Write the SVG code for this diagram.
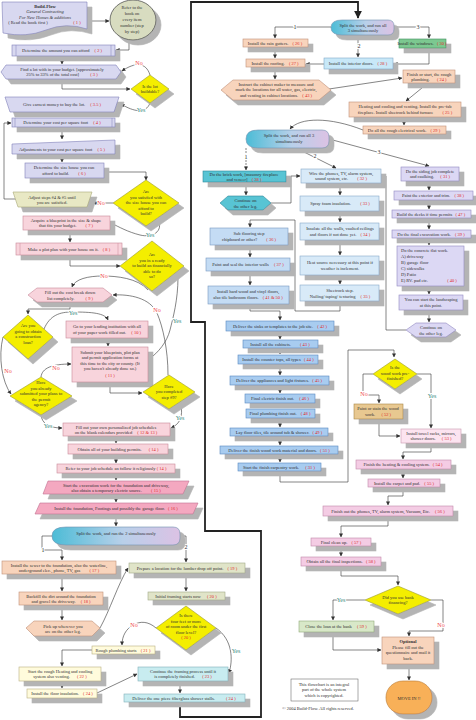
<svg xmlns="http://www.w3.org/2000/svg" width="476" height="720" viewBox="0 0 476 720">
<defs>
<filter id="sh" x="-0.1" y="-0.3" width="1.5" height="2.6"><feFlood flood-color="#b4b4b4"/><feComposite in2="SourceAlpha" operator="in"/><feOffset dx="5" dy="5" result="s"/><feMerge><feMergeNode in="s"/><feMergeNode in="SourceGraphic"/></feMerge></filter>
<marker id="ah" viewBox="0 0 10 10" refX="9" refY="5" markerWidth="4" markerHeight="4" markerUnits="userSpaceOnUse" orient="auto"><path d="M0,0 L10,5 L0,10 Z" fill="#333"/></marker>
<marker id="ahb" viewBox="0 0 10 10" refX="9" refY="5" markerWidth="8" markerHeight="8" markerUnits="userSpaceOnUse" orient="auto"><path d="M0,0 L10,5 L0,10 Z" fill="#222"/></marker>
<linearGradient id="sg" x1="0" y1="0" x2="1" y2="0"><stop offset="0" stop-color="#4cbcd6"/><stop offset="0.55" stop-color="#b8d0ea"/><stop offset="1" stop-color="#dcc2e4"/></linearGradient>
</defs>
<style>
text{font-family:"Liberation Serif","Times New Roman",serif;font-size:4.5px;fill:#303030;text-anchor:middle}
text.st{text-anchor:start}
.n{fill:#e02828}
.lb{font-size:6px;paint-order:stroke;stroke:#fff;stroke-width:2px}
.no{fill:#f04848}
.ye{fill:#3a8a80}
.c{stroke:#333;stroke-width:0.6;fill:none;marker-end:url(#ah)}
.th{stroke:#222;stroke-width:1.8;fill:none}
.lv{fill:#d8d8f0;stroke:#8080b8;stroke-width:0.6}
.ad{fill:#e8e8c4;stroke:#a8a878;stroke-width:0.6}
.pk{fill:#f8d4dc;stroke:#c88898;stroke-width:0.6}
.dp{fill:#f4a8c0;stroke:#c07090;stroke-width:0.6}
.sa{fill:#f8d4bc;stroke:#c09078;stroke-width:0.6}
.gg{fill:#e0e4c8;stroke:#a0a888;stroke-width:0.6}
.ly{fill:#fffbdc;stroke:#b8b080;stroke-width:0.6}
.lc{fill:#c8ecf0;stroke:#80b0b8;stroke-width:0.6}
.wg{fill:#7cc890;stroke:#409060;stroke-width:0.6}
.ib{fill:#c8e8f8;stroke:#80a8c8;stroke-width:0.6}
.cy{fill:#58c4d4;stroke:#308898;stroke-width:0.6}
.mb{fill:#d8eaf8;stroke:#88a8c8;stroke-width:0.6}
.sb{fill:#c4dcf4;stroke:#7898c0;stroke-width:0.6}
.bb{fill:#a8ccf0;stroke:#5888c0;stroke-width:0.6}
.rl{fill:#dcd8f4;stroke:#9088c0;stroke-width:0.6}
.tn{fill:#e8c890;stroke:#a88848;stroke-width:0.6}
.lp{fill:#fce4f0;stroke:#c898b0;stroke-width:0.6}
.pp{fill:#f4cce4;stroke:#c088a8;stroke-width:0.6}
.gn{fill:#d8e8c8;stroke:#90a878;stroke-width:0.6}
.yl{fill:#f4ee00;stroke:#9a9a30;stroke-width:0.6}
.sp{fill:url(#sg);stroke:#7090b0;stroke-width:0.6}
.il{stroke:#8080b8;stroke-width:0.5}
</style>

<g id="connectors">
<path class="th" d="M180,702 V717 H261 V531 H205 V322 H191 V2 H358 V18" marker-end="url(#ahb)"/>
<path class="c" d="M87,21 H109"/>
<path class="c" d="M129,40 V50 H116"/>
<path class="c" d="M62,56 V64"/>
<path class="c" d="M62,79 V89 H130"/>
<path class="c" d="M150,75 C146,62 135,62 122,71"/>
<path class="c" d="M150,103 C146,114 134,112 121,104"/>
<path class="c" d="M62,112 V117"/>
<path class="c" d="M62,127 V139"/>
<path class="c" d="M62,154 V162"/>
<path class="c" d="M104,172 H146 V180"/>
<path class="c" d="M113,203 H93"/>
<path class="c" d="M18,199 H4 V123 H11"/>
<path class="c" d="M158,219 C164,232 152,238 140,235 C128,232 119,227 111,223"/>
<path class="c" d="M70,230 V242"/>
<path class="c" d="M70,255 V266 H120"/>
<path class="c" d="M148,290 C138,278 116,276 103,276 C88,276 75,279 72,287"/>
<path class="c" d="M178,277 C178,300 173,318 170,330 C167,342 158,353 149,359"/>
<path class="c" d="M168,375 C168,350 163,327 157,313 C150,298 130,294 113,295"/>
<path class="c" d="M70,302 V309 H28 V314"/>
<path class="c" d="M44,329 C50,315 60,312 72,312 C92,312 105,313 108,320"/>
<path class="c" d="M108,338 V346"/>
<path class="c" d="M3,337 C-2,357 2,382 11,394"/>
<path class="c" d="M41,377 C42,368 52,364 71,364"/>
<path class="c" d="M110,382 V393 H142"/>
<path class="c" d="M41,415 C42,423 48,428 62,428"/>
<path class="c" d="M181,404 C183,417 180,424 171,428"/>
<path class="c" d="M116,436 V443"/>
<path class="c" d="M116,454 V463"/>
<path class="c" d="M116,473 V480"/>
<path class="c" d="M116,494 V502"/>
<path class="c" d="M116,514 V526"/>
<path class="c" d="M52,536 H42 V550 H62 V560"/>
<path class="c" d="M180,536 H186 V562"/>
<path class="c" d="M62,574 V591"/>
<path class="c" d="M62,605 V620"/>
<path class="c" d="M100,628 C110,610 118,584 128,568"/>
<path class="c" d="M186,573 V591"/>
<path class="c" d="M186,600 V605"/>
<path class="c" d="M156,628 C148,621 140,621 133,625 C126,629 122,636 122,645"/>
<path class="c" d="M216,628 C233,640 233,660 229,673"/>
<path class="c" d="M92,650 H62 V666"/>
<path class="c" d="M62,681 V688"/>
<path class="c" d="M97,693 L137,674"/>
<path class="c" d="M180,681 V693"/>
<path class="c" d="M331,27 H275 V38"/>
<path class="c" d="M358,35 V57"/>
<path class="c" d="M394,27 H429 V38"/>
<path class="c" d="M275,47 V58"/>
<path class="c" d="M429,48 V64 H394"/>
<path class="c" d="M324,64 H306"/>
<path class="c" d="M275,67 V79"/>
<path class="c" d="M329,89 L402,78"/>
<path class="c" d="M428,83 L406,101"/>
<path class="c" d="M404,117 V125"/>
<path class="c" d="M363,130 C330,117 300,117 290,129"/>
<path class="c" d="M246,148 V170" stroke-dasharray="2,1"/>
<path class="c" d="M296,148 L336,168"/>
<path class="c" d="M329,139 L429,166"/>
<path class="c" d="M246,182 V195"/>
<path class="c" d="M271,203 H291 V176 H300"/>
<path class="c" d="M340,183 V195"/>
<path class="c" d="M340,211 V222"/>
<path class="c" d="M340,240 V255"/>
<path class="c" d="M340,275 V284"/>
<path class="c" d="M340,301 V311 H295 V220 H250 V227"/>
<path class="c" d="M250,245 V257"/>
<path class="c" d="M250,271 V285"/>
<path class="c" d="M250,304 V311 H280 V320"/>
<path class="c" d="M280,331 V339"/>
<path class="c" d="M280,348 V354"/>
<path class="c" d="M280,364 V375"/>
<path class="c" d="M280,385 V393"/>
<path class="c" d="M280,403 V408"/>
<path class="c" d="M280,418 V427"/>
<path class="c" d="M280,436 V445"/>
<path class="c" d="M280,454 V462"/>
<path class="c" d="M280,471 V482 H348 V350 H394 V357"/>
<path class="c" d="M429,181 V190"/>
<path class="c" d="M429,200 V209"/>
<path class="c" d="M429,218 V229"/>
<path class="c" d="M429,238 V245"/>
<path class="c" d="M429,286 V294"/>
<path class="c" d="M429,310 V322"/>
<path class="c" d="M406,330 H386 V176 H382"/>
<path class="c" d="M373,374 H363 V395 H379 V403"/>
<path class="c" d="M417,374 H431 V428"/>
<path class="c" d="M379,419 V436 H400"/>
<path class="c" d="M431,443 V452 H403 V459"/>
<path class="c" d="M403,469 V478"/>
<path class="c" d="M403,487 V496 H388 V505"/>
<path class="c" d="M388,516 V526 H341 V537"/>
<path class="c" d="M341,546 V556"/>
<path class="c" d="M341,566 V576 H398 V585"/>
<path class="c" d="M365,600 H333 V620"/>
<path class="c" d="M431,600 H443 V631 H409 V636"/>
<path class="c" d="M333,632 V650 H381"/>
<path class="c" d="M409,664 V680"/>
<text class="lb no" x="139" y="65">No</text>
<text class="lb ye" x="141" y="112">Yes</text>
<text class="lb no" x="101" y="205">No</text>
<text class="lb ye" x="150" y="237">Yes</text>
<text class="lb no" x="104" y="278">No</text>
<text class="lb ye" x="177" y="323">Yes</text>
<text class="lb no" x="157" y="312">No</text>
<text class="lb ye" x="73" y="315">Yes</text>
<text class="lb no" x="8" y="373">No</text>
<text class="lb no" x="56" y="370">No</text>
<text class="lb ye" x="48" y="428">Yes</text>
<text class="lb ye" x="180" y="420">Yes</text>
<text class="lb" x="43" y="552">1</text>
<text class="lb" x="186" y="549">2</text>
<text class="lb no" x="134" y="627">No</text>
<text class="lb ye" x="236" y="653">Yes</text>
<text class="lb" x="295" y="29">1</text>
<text class="lb" x="359" y="48">2</text>
<text class="lb" x="418" y="29">3</text>
<text class="lb" x="246" y="159">1</text>
<text class="lb" x="315" y="158">2</text>
<text class="lb" x="379" y="154">3</text>
<text class="lb no" x="364" y="396">No</text>
<text class="lb ye" x="432" y="398">Yes</text>
<text class="lb ye" x="341" y="602">Yes</text>
<text class="lb no" x="441" y="627">No</text>
</g>

<g id="n1"><path class="lv" stroke="#5068b0" filter="url(#sh)" d="M2,2 H87 V29 Q66,22 46,30 T3,33 Z"/>
<text x="45" y="7.5" font-weight="bold" fill="#303050">Build-Flow</text>
<text x="45" y="13" font-style="italic" fill="#208040">General Contracting</text>
<text x="45" y="18.5" font-style="italic" fill="#208040">For New Homes &amp; additions</text>
<text x="28" y="24">( Read the book first )</text><text class="n" x="77" y="24">( 1 )</text></g>
<g id="n1b"><ellipse cx="133" cy="20" rx="23" ry="20" fill="#d8dcc0" stroke="#404040" stroke-width="0.7" filter="url(#sh)"/>
<text x="132" y="9">Refer to the</text><text x="132" y="15">book on</text><text x="132" y="21">every item</text><text x="132" y="27">number (step</text><text x="132" y="33">by step)</text></g>
<g id="n2"><rect class="lv" x="12" y="45" width="103" height="11" filter="url(#sh)"/><path class="il" d="M16,45 V56 M111,45 V56"/>
<text x="62" y="52">Determine the amount you can afford <tspan class="n" dx="4">( 2 )</tspan></text></g>
<g id="n3"><polygon class="lv" points="1,72 6,65 116,65 121,72 116,79 6,79" filter="url(#sh)"/>
<text x="62" y="70.5">Find a lot with in your budget. [approximately</text><text x="62" y="76">25% to 33% of the total cost] <tspan class="n" dx="10">( 3 )</tspan></text></g>
<g id="d1"><polygon class="yl" points="150,75 169,89 150,103 131,89" filter="url(#sh)"/>
<text x="150" y="88">Is the lot</text><text x="150" y="93">buildable?</text></g>
<g id="n35"><polygon class="lv" points="5,97 119,97 114,112 10,112" filter="url(#sh)"/>
<text x="62" y="106">Give earnest money to buy the lot. <tspan class="n" dx="4">( 3.5 )</tspan></text></g>
<g id="n4"><rect class="lv" x="12" y="118" width="103" height="9" filter="url(#sh)"/><path class="il" d="M15,118 V127 M112,118 V127"/>
<text x="62" y="124">Determine your cost per square foot <tspan class="n" dx="4">( 4 )</tspan></text></g>
<g id="n5"><polygon class="lv" points="12,144 115,140 115,154 12,154" filter="url(#sh)"/>
<text x="62" y="150.5">Adjustments to your cost per square foot <tspan class="n" dx="4">( 5 )</tspan></text></g>
<g id="n6"><rect class="lv" x="25" y="163" width="79" height="15" filter="url(#sh)"/>
<text x="64" y="169">Determine the size house you can</text><text x="64" y="175">afford to build. <tspan class="n" dx="8">( 6 )</tspan></text></g>
<g id="n6b"><polygon class="ad" points="13,192 92,192 87,207 18,207" filter="url(#sh)"/>
<text x="52" y="198.5">Adjust steps #4 &amp; #5 until</text><text x="52" y="204">you are satisfied.</text></g>
<g id="d2"><polygon class="yl" points="146,180 179,203 146,226 113,203" filter="url(#sh)"/>
<text x="146" y="193">Are</text><text x="146" y="198.5">you satisfied with</text><text x="146" y="204">the size house you can</text><text x="146" y="209.5">afford to</text><text x="146" y="215">build?</text></g>
<g id="n7"><rect class="pk" x="23" y="216" width="87" height="14" filter="url(#sh)"/>
<text x="66" y="221.5">Acquire a blueprint in the size &amp; shape</text><text x="66" y="227">that fits your budget. <tspan class="n" dx="8">( 7 )</tspan></text></g>
<g id="n8"><rect class="pk" x="16" y="243" width="106" height="12" filter="url(#sh)"/><path stroke="#c88898" stroke-width="0.5" d="M20,243 V255 M118,243 V255"/>
<text x="69" y="250.5">Make a plot plan with your house on it. <tspan class="n" dx="3">( 8 )</tspan></text></g>
<g id="d3"><polygon class="yl" points="152,241 184,266 152,291 120,266" filter="url(#sh)"/>
<text x="152" y="256">Are</text><text x="152" y="261.5">you in a ready</text><text x="152" y="267">to build an financially</text><text x="152" y="272.5">able to do</text><text x="152" y="278">so?</text></g>
<g id="n9"><polygon class="pk" stroke="#303030" stroke-width="1" points="28,295 37,288 103,288 112,295 103,302 37,302" filter="url(#sh)"/>
<text x="70" y="294">Fill out the cost break down</text><text x="70" y="299.5">list completely. <tspan class="n" dx="10">( 9 )</tspan></text></g>
<g id="d4"><polygon class="yl" points="28,315 53,337 28,359 3,337" filter="url(#sh)"/>
<text x="28" y="327">Are you</text><text x="28" y="332.5">going to obtain</text><text x="28" y="338">a construction</text><text x="28" y="343.5">loan?</text></g>
<g id="n10"><rect class="pk" x="66" y="321" width="82" height="17" filter="url(#sh)"/>
<text x="107" y="327.5">Go to your lending institution with all</text><text x="107" y="333.5">of your paper work filled out. <tspan class="n" dx="4">( 10 )</tspan></text></g>
<g id="n11"><rect class="pk" x="72" y="347" width="76" height="35" filter="url(#sh)"/>
<text x="110" y="353.5">Submit your blueprints, plot plan</text><text x="110" y="359">and permit application forms at</text><text x="110" y="364.5">this time to the city or county. (If</text><text x="110" y="370">you haven't already done so.)</text><text class="n" x="110" y="376.5">( 11 )</text></g>
<g id="d5"><polygon class="yl" points="41,377 72,396 41,415 10,396" filter="url(#sh)"/>
<text x="41" y="384">Have</text><text x="41" y="389.5">you already</text><text x="41" y="395">submitted your plans to</text><text x="41" y="400.5">the permit</text><text x="41" y="406">agency?</text></g>
<g id="d6"><polygon class="yl" points="169,375 195,392 169,409 143,392" filter="url(#sh)"/>
<text x="169" y="387.5">Have</text><text x="169" y="393">you completed</text><text x="169" y="398.5">step #9?</text></g>
<g id="n12"><rect class="pk" x="63" y="423" width="107" height="13" filter="url(#sh)"/>
<text x="116" y="428.5">Fill out your own personalized job schedules</text><text x="116" y="434">on the blank calendars provided <tspan class="n" dx="4">( 12 &amp; 13 )</tspan></text></g>
<g id="n14"><rect class="pk" x="68" y="444" width="100" height="10" filter="url(#sh)"/>
<text x="118" y="450.5">Obtain all of your building permits. <tspan class="n" dx="6">( 14 )</tspan></text></g>
<g id="n14b"><rect class="pk" x="57" y="464" width="118" height="9" filter="url(#sh)"/>
<text x="116" y="470">Refer to your job schedule an follow it religiously <tspan class="n">( 14 )</tspan></text></g>
<g id="n15"><polygon class="dp" points="48,481 189,481 183,494 43,494" filter="url(#sh)"/>
<text x="116" y="486.5">Start the excavation work for the foundation and driveway,</text><text x="116" y="492">also obtain a temporary electric source. <tspan class="n" dx="8">( 15 )</tspan></text></g>
<g id="n16"><polygon class="dp" points="40,503 198,503 193,514 35,514" filter="url(#sh)"/>
<text x="116" y="510">Install the foundation, Footings and possibly the garage floor. <tspan class="n" dx="2">( 16 )</tspan></text></g>
<g id="s2"><path class="sp" d="M66,527 H173 Q180,527 180,534 V538 Q180,545 173,545 H66 Q52,545 52,536 Q52,527 66,527 Z" filter="url(#sh)"/>
<text x="116" y="535">Split the work, and run the 2 simultaneously</text></g>
<g id="n17"><rect class="sa" x="2" y="561" width="114" height="13" filter="url(#sh)"/>
<text x="59" y="566.5">Install the sewer to the foundation, also the waterline,</text><text x="59" y="572">underground elec., phone, TV, gas <tspan class="n" dx="8">( 17 )</tspan></text></g>
<g id="n18"><rect class="sa" x="19" y="592" width="84" height="13" filter="url(#sh)"/>
<text x="61" y="597.5">Backfill the dirt around the foundation</text><text x="61" y="603">and gravel the driveway. <tspan class="n" dx="4">( 18 )</tspan></text></g>
<g id="h1"><polygon class="sa" stroke="#303030" stroke-width="0.9" points="26,628 34,621 92,621 100,628 92,636 34,636" filter="url(#sh)"/>
<text x="63" y="627.5">Pick up wherever you</text><text x="63" y="633">are on the other leg.</text></g>
<g id="n19"><rect class="gg" x="129" y="563" width="116" height="10" filter="url(#sh)"/>
<text x="187" y="569.5">Prepare a location for the lumber drop off point. <tspan class="n" dx="3">( 19 )</tspan></text></g>
<g id="n20"><rect class="gg" x="148" y="592" width="77" height="8" filter="url(#sh)"/>
<text x="186" y="597.5">Initial framing starts now <tspan class="n" dx="5">( 20 )</tspan></text></g>
<g id="d7"><polygon class="yl" points="186,606 216,628 186,650 156,628" filter="url(#sh)"/>
<text x="186" y="617">Is there</text><text x="186" y="622.5">four feet or more</text><text x="186" y="628">of room under the first</text><text x="186" y="633.5">floor level?</text><text class="n" x="186" y="639">( 20 )</text></g>
<g id="n21"><rect class="ly" x="92" y="646" width="63" height="8" filter="url(#sh)"/>
<text x="123" y="651.5">Rough plumbing starts <tspan class="n" dx="3">( 21 )</tspan></text></g>
<g id="n22"><rect class="ly" x="19" y="667" width="82" height="14" filter="url(#sh)"/>
<text x="60" y="672.5">Start the rough Heating and cooling</text><text x="60" y="678">system also venting. <tspan class="n" dx="6">( 22 )</tspan></text></g>
<g id="n24a"><rect class="ly" x="27" y="689" width="70" height="9" filter="url(#sh)"/>
<text x="62" y="695">Install the floor insulation. <tspan class="n" dx="3">( 24 )</tspan></text></g>
<g id="n23"><rect class="lc" x="138" y="667" width="90" height="14" filter="url(#sh)"/>
<text x="183" y="672.5">Continue the framing process until it</text><text x="183" y="678">is completely finished. <tspan class="n" dx="6">( 23 )</tspan></text></g>
<g id="n24b"><rect class="lc" x="124" y="694" width="121" height="8" filter="url(#sh)"/>
<text x="184" y="699.5">Deliver the one piece fiberglass shower stalls. <tspan class="n" dx="10">( 24 )</tspan></text></g>

<g id="s1"><path class="sp" d="M342,20 H388 Q394,20 394,26 V29 Q394,35 388,35 H342 Q331,35 331,27.5 Q331,20 342,20 Z" filter="url(#sh)"/>
<text x="363" y="26.5">Split the work, and run all</text><text x="363" y="32">3 simultaneously</text></g>
<g id="n26"><rect class="sa" x="243" y="39" width="65" height="8" filter="url(#sh)"/>
<text x="275" y="44.5">Install the rain gutters. <tspan class="n" dx="3">( 26 )</tspan></text></g>
<g id="n27"><rect class="sa" x="246" y="59" width="59" height="8" filter="url(#sh)"/>
<text x="275" y="64.5">Install the roofing. <tspan class="n" dx="3">( 27 )</tspan></text></g>
<g id="n28"><rect class="ib" x="324" y="58" width="69" height="11" filter="url(#sh)"/>
<text x="358" y="65">Install the interior doors. <tspan class="n" dx="3">( 28 )</tspan></text></g>
<g id="n30"><rect class="wg" x="399" y="39" width="47" height="9" filter="url(#sh)"/>
<text x="422" y="45">Install the windows. <tspan class="n" dx="2">( 30 )</tspan></text></g>
<g id="h2"><polygon class="sa" points="221,90 233,80 319,80 331,90 319,100 233,100" filter="url(#sh)"/>
<text x="276" y="85.5">Instruct the cabinet maker to measure and</text><text x="276" y="91">mark the locations for all water, gas, electric,</text><text x="276" y="96.5">and venting in cabinet locations. <tspan class="n" dx="3">( 43 )</tspan></text></g>
<g id="n24r"><rect class="sa" x="403" y="70" width="52" height="13" filter="url(#sh)"/>
<text x="429" y="75.5">Finish or start, the rough</text><text x="429" y="81">plumbing. <tspan class="n" dx="6">( 24 )</tspan></text></g>
<g id="n25"><rect class="sa" x="349" y="102" width="112" height="15" filter="url(#sh)"/>
<text x="405" y="108">Heating and cooling and venting. Install the pre-fab</text><text x="405" y="114">fireplace. Install sheetrock behind furnace <tspan class="n" dx="8">( 25 )</tspan></text></g>
<g id="n29"><rect class="sa" x="363" y="126" width="83" height="8" filter="url(#sh)"/>
<text x="404" y="131.5">Do all the rough electrical work. <tspan class="n" dx="3">( 29 )</tspan></text></g>
<g id="s3"><path class="sp" d="M258,130 H322 Q329,130 329,137 V141 Q329,148 322,148 H258 Q246,148 246,139 Q246,130 258,130 Z" filter="url(#sh)"/>
<text x="289" y="137">Split the work, and run all 3</text><text x="289" y="142.5">simultaneously</text></g>
<g id="n38"><rect class="cy" x="203" y="171" width="83" height="11" filter="url(#sh)"/>
<text x="244" y="175.8">Do the brick work, [masonry fireplace</text><text x="244" y="180.8">and veneer] <tspan class="n" dx="3">( 38 )</tspan></text></g>
<g id="h3"><polygon class="cy" points="220,203 228,196 263,196 271,203 263,210 228,210" filter="url(#sh)"/>
<text x="245.5" y="202">Continue on</text><text x="245.5" y="207.5">the other leg.</text></g>
<g id="n32"><rect class="mb" x="301" y="169" width="80" height="14" filter="url(#sh)"/>
<text x="341" y="174.5">Wire the phones, TV, alarm system,</text><text x="341" y="180">sound system, etc. <tspan class="n" dx="8">( 32 )</tspan></text></g>
<g id="n33"><rect class="mb" x="300" y="196" width="79" height="15" filter="url(#sh)"/>
<text x="340" y="205">Spray foam insulation. <tspan class="n" dx="8">( 33 )</tspan></text></g>
<g id="n34"><rect class="mb" x="300" y="223" width="79" height="17" filter="url(#sh)"/>
<text x="340" y="230">Insulate all the walls, vaulted ceilings</text><text x="340" y="236">and floors if not done yet. <tspan class="n" dx="3">( 34 )</tspan></text></g>
<g id="n34b"><rect class="mb" x="300" y="256" width="79" height="19" filter="url(#sh)"/>
<text x="340" y="263.5">Heat source necessary at this point if</text><text x="340" y="269.5">weather is inclement.</text></g>
<g id="n35r"><rect class="mb" x="300" y="285" width="79" height="16" filter="url(#sh)"/>
<text x="340" y="291.5">Sheetrock step.</text><text x="340" y="297.5">Nailing/ taping/ texturing <tspan class="n" dx="4">( 35 )</tspan></text></g>
<g id="n36"><rect class="sb" x="210" y="228" width="78" height="17" filter="url(#sh)"/>
<text x="249" y="234.5">Sub flooring step</text><text x="249" y="240.5">chipboard or other? <tspan class="n" dx="8">( 36 )</tspan></text></g>
<g id="n37"><rect class="sb" x="206" y="258" width="84" height="13" filter="url(#sh)"/>
<text x="248" y="266">Paint and seal the interior walls <tspan class="n" dx="4">( 37 )</tspan></text></g>
<g id="n41"><rect class="sb" x="208" y="286" width="81" height="18" filter="url(#sh)"/>
<text x="248" y="293">Install hard wood and vinyl floors,</text><text x="248" y="299">also tile bathroom floors. <tspan class="n" dx="3">( 41 &amp; 50 )</tspan></text></g>
<g id="n42"><rect class="bb" x="226" y="321" width="108" height="10" filter="url(#sh)"/>
<text x="280" y="327.5">Deliver the sinks or templates to the job site. <tspan class="n" dx="3">( 42 )</tspan></text></g>
<g id="n43"><rect class="bb" x="243" y="340" width="75" height="8" filter="url(#sh)"/>
<text x="280" y="345.5">Install all the cabinets. <tspan class="n" dx="8">( 43 )</tspan></text></g>
<g id="n44"><rect class="bb" x="238" y="355" width="80" height="9" filter="url(#sh)"/>
<text x="278" y="361">Install the counter tops, all types <tspan class="n" dx="2">( 44 )</tspan></text></g>
<g id="n45"><rect class="bb" x="230" y="376" width="99" height="9" filter="url(#sh)"/>
<text x="279" y="382">Deliver the appliances and light fixtures. <tspan class="n" dx="2">( 45 )</tspan></text></g>
<g id="n46"><rect class="bb" x="245" y="394" width="70" height="9" filter="url(#sh)"/>
<text x="280" y="400">Final electric finish out. <tspan class="n" dx="4">( 46 )</tspan></text></g>
<g id="n48"><rect class="bb" x="246" y="409" width="69" height="9" filter="url(#sh)"/>
<text x="280" y="415">Final plumbing finish out. <tspan class="n" dx="3">( 48 )</tspan></text></g>
<g id="n49"><rect class="bb" x="230" y="428" width="98" height="8" filter="url(#sh)"/>
<text x="279" y="433.5">Lay floor tiles, tile around tub &amp; shower. <tspan class="n" dx="2">( 49 )</tspan></text></g>
<g id="n51"><rect class="bb" x="220" y="446" width="118" height="8" filter="url(#sh)"/>
<text x="279" y="451.5">Deliver the finish wood work material and doors. <tspan class="n" dx="2">( 51 )</tspan></text></g>
<g id="n31b"><rect class="bb" x="238" y="463" width="83" height="8" filter="url(#sh)"/>
<text x="279" y="468.5">Start the finish carpentry work. <tspan class="n" dx="5">( 31 )</tspan></text></g>
<g id="n31"><rect class="rl" x="401" y="167" width="58" height="14" filter="url(#sh)"/>
<text x="430" y="172.5">Do the siding job complete</text><text x="430" y="178">and caulking. <tspan class="n" dx="5">( 31 )</tspan></text></g>
<g id="n38r"><rect class="rl" x="394" y="191" width="79" height="9" filter="url(#sh)"/>
<text x="433" y="197">Paint the exterior and trim. <tspan class="n" dx="3">( 38 )</tspan></text></g>
<g id="n47"><rect class="rl" x="392" y="210" width="79" height="8" filter="url(#sh)"/>
<text x="431" y="215.5">Build the decks if time permits <tspan class="n" dx="2">( 47 )</tspan></text></g>
<g id="n39"><rect class="rl" x="392" y="230" width="79" height="8" filter="url(#sh)"/>
<text x="431" y="235.5">Do the final excavation work. <tspan class="n" dx="3">( 39 )</tspan></text></g>
<g id="n40"><rect class="rl" x="397" y="246" width="67" height="40" filter="url(#sh)"/>
<text class="st" x="401" y="252">Do the concrete flat work.</text><text class="st" x="401" y="258">A)  driveway</text><text class="st" x="401" y="264">B)  garage floor</text><text class="st" x="401" y="270">C)  sidewalks</text><text class="st" x="401" y="276">D)  Patio</text><text class="st" x="401" y="282">E)  RV. pad etc.</text><text class="n" x="452" y="282">( 40 )</text></g>
<g id="n40b"><rect class="rl" x="399" y="295" width="64" height="15" filter="url(#sh)"/>
<text x="431" y="301">You can start the landscaping</text><text x="431" y="307">at this point.</text></g>
<g id="h4"><polygon class="rl" stroke="#404040" points="406,330 416,323 446,323 456,330 446,337 416,337" filter="url(#sh)"/>
<text x="431" y="329">Continue on</text><text x="431" y="334.5">the other leg.</text></g>
<g id="d8"><polygon class="yl" points="395,359 417,374 395,389 373,374" filter="url(#sh)"/>
<text x="395" y="369">Is the</text><text x="395" y="374.5">wood work pre-</text><text x="395" y="380">finished?</text></g>
<g id="n52"><rect class="tn" x="354" y="404" width="49" height="15" filter="url(#sh)"/>
<text x="378" y="410">Paint or stain the wood</text><text x="378" y="416">work. <tspan class="n" dx="5">( 52 )</tspan></text></g>
<g id="n53"><rect class="lp" x="401" y="429" width="60" height="14" filter="url(#sh)"/>
<text x="431" y="434.5">Install towel racks, mirrors,</text><text x="431" y="440">shower doors. <tspan class="n" dx="5">( 53 )</tspan></text></g>
<g id="n54"><rect class="pp" x="356" y="460" width="95" height="9" filter="url(#sh)"/>
<text x="403" y="466">Finish the heating &amp; cooling system. <tspan class="n" dx="2">( 54 )</tspan></text></g>
<g id="n55"><rect class="pp" x="368" y="479" width="72" height="8" filter="url(#sh)"/>
<text x="404" y="484.5">Install the carpet and pad. <tspan class="n" dx="3">( 55 )</tspan></text></g>
<g id="n56"><rect class="pp" x="323" y="506" width="130" height="10" filter="url(#sh)"/>
<text x="388" y="512.5">Finish out the phones, TV, alarm system, Vacuum, Etc. <tspan class="n" dx="4">( 56 )</tspan></text></g>
<g id="n57"><rect class="pp" x="311" y="538" width="60" height="8" filter="url(#sh)"/>
<text x="341" y="543.5">Final clean up. <tspan class="n" dx="3">( 57 )</tspan></text></g>
<g id="n58"><rect class="pp" x="301" y="557" width="80" height="9" filter="url(#sh)"/>
<text x="341" y="563">Obtain all the final inspections. <tspan class="n" dx="2">( 58 )</tspan></text></g>
<g id="d9"><polygon class="yl" points="398,586 431,600 398,614 365,600" filter="url(#sh)"/>
<text x="398" y="598.5">Did you use bank</text><text x="398" y="604">financing?</text></g>
<g id="n59"><rect class="gn" x="299" y="621" width="75" height="11" filter="url(#sh)"/>
<text x="336" y="628">Close the loan at the bank <tspan class="n" dx="4">( 59 )</tspan></text></g>
<g id="n60"><rect class="sa" x="382" y="637" width="52" height="27" filter="url(#sh)"/>
<text x="408" y="643" font-weight="bold" fill="#3030a0">Optional</text><text x="408" y="648.5">Please fill out the</text><text x="408" y="654">questionnaire and mail it</text><text x="408" y="659.5">back.</text></g>
<g id="n61"><rect x="386" y="681" width="46" height="33" rx="17" ry="16" fill="#f8b058" stroke="#b87830" stroke-width="0.6" filter="url(#sh)"/>
<text x="409" y="700" font-size="8px" fill="#402010">MOVE IN !!</text></g>
<g id="note"><rect x="291" y="679" width="67" height="22" fill="none" stroke="#555" stroke-width="0.5"/>
<text x="324" y="685.5">This flowchart is an integral</text><text x="324" y="691">part of the whole system</text><text x="324" y="696.5">which is copyrighted.</text>
<text x="318" y="710">© 2004 Build-Flow. All rights reserved.</text></g>
</svg>
